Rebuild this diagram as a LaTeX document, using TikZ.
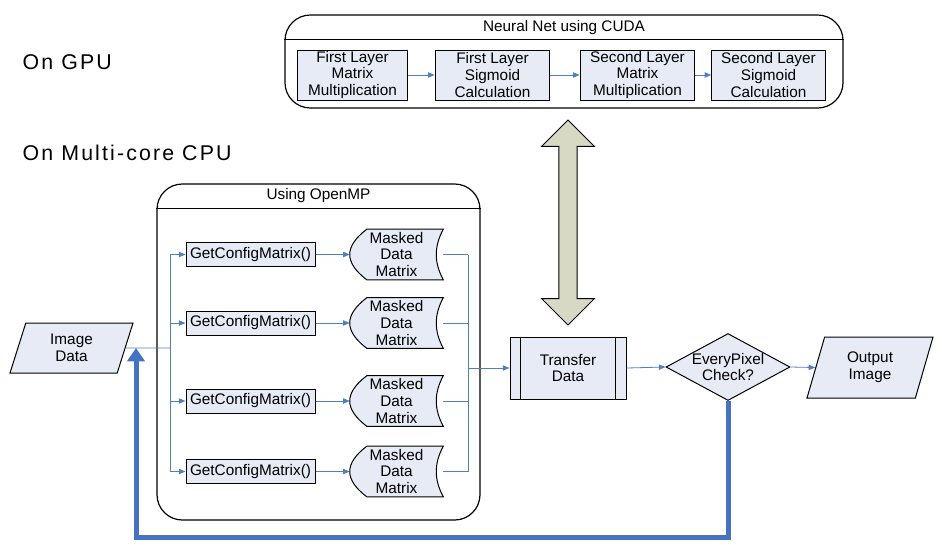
\documentclass[tikz,border=0pt]{standalone}
\usepackage{fontspec}
\setmainfont{Liberation Sans}
\newfontfamily\widefont[LetterSpace=10]{Liberation Sans}
\usetikzlibrary{arrows.meta,shapes.geometric,shapes.arrows,backgrounds}
\definecolor{boxfill}{RGB}{230,235,246}
\definecolor{linkblue}{RGB}{79,129,189}
\definecolor{backblue}{RGB}{70,114,196}
\definecolor{olivefill}{RGB}{215,217,197}
\tikzset{
  txt/.style={font=\fontsize{11.5}{12.5}\selectfont},
  stepbox/.style={txt, draw, fill=boxfill, align=center, inner sep=0pt, line width=0.75pt},
  storedbox/.style={txt, align=center, inner sep=0pt, minimum width=69.75pt, minimum height=37.5pt},
  storedline/.style={draw, fill=boxfill, line width=0.75pt},
  iobox/.style={txt, trapezium, trapezium left angle=60, trapezium right angle=120,
    trapezium stretches body, draw, fill=boxfill, align=center, inner sep=0pt, line width=0.75pt},
  decision/.style={txt, diamond, draw, fill=boxfill, align=center, inner sep=-8pt,
    minimum width=93pt, minimum height=50.25pt, line width=0.75pt},
  panel/.style={draw, line width=0.9pt, rounded corners=19pt},
  bigarrow/.style={double arrow, rotate=90, draw, fill=olivefill, line width=0.75pt,
    minimum height=153.75pt, double arrow head extend=13pt, inner sep=0pt, inner ysep=6.4pt},
  link/.style={draw=linkblue, line width=0.6pt},
  flow/.style={link, -{Triangle[length=5pt,width=4pt]}},
  back/.style={draw=backblue, line width=3.75pt, line join=miter, -{Triangle[length=10pt,width=13pt]}},
  side/.style={anchor=west, font=\widefont\fontsize{16}{19}\selectfont}
}
\begin{document}
\begin{tikzpicture}[x=0.75pt,y=-0.75pt]
  \useasboundingbox (0,0) rectangle (944,551);

  % GPU part
  \node[side] (gpulabel) at (18,62) {On GPU};
  \node[side] (cpulabel) at (18,153) {On Multi-core CPU};

  \node[panel, minimum width=418.5pt, minimum height=69.75pt] (gpu) at (564,61.5) {};
  \draw[line width=0.9pt] ([yshift=-18.75pt]gpu.north west) -- ([yshift=-18.75pt]gpu.north east);
  \node[txt] (gputitle) at (564,28) {Neural Net using CUDA};

  \node[stepbox, minimum width=83pt, minimum height=37.5pt] (l1) at (352.5,75) {First Layer\\Matrix\\Multiplication};
  \node[stepbox, minimum width=86pt, minimum height=37.5pt] (l2) at (492.5,75) {First Layer\\Sigmoid\\Calculation};
  \node[stepbox, minimum width=86pt, minimum height=37.5pt] (l3) at (637.5,75) {Second Layer\\Matrix\\Multiplication};
  \node[stepbox, minimum width=85pt, minimum height=37.5pt] (l4) at (768.5,75) {Second Layer\\Sigmoid\\Calculation};
  \draw[flow] (l1.east) -- (l2.west);
  \draw[flow] (l2.east) -- (l3.west);
  \draw[flow] (l3.east) -- (l4.west);

  \node[bigarrow] (xfer) at (568,222.5) {};

  % CPU part
  \node[panel, minimum width=242.25pt, minimum height=252pt] (omp) at (318.5,352) {};
  \draw[line width=0.9pt] ([yshift=-18.75pt]omp.north west) -- ([yshift=-18.75pt]omp.north east);
  \node[txt] (omptitle) at (318.5,196) {Using OpenMP};

  \foreach \i/\y in {1/254.5,2/323,3/401,4/471.5} {
    \node[stepbox, minimum width=96.75pt, minimum height=18pt] (g\i) at (250.5,\y) {GetConfigMatrix()};
    \node[storedbox] (m\i) at (396.5,\y) {Masked\\Data\\Matrix};
    \draw[flow] (g\i.east) -- (m\i.west);
  }

  \node[iobox, minimum width=92.25pt, minimum height=37.5pt] (idata) at (71.5,348) {Image\\Data};
  \coordinate (split) at (170,348);
  \draw[link] (idata.east) -- (split);
  \draw[link] (split |- g1.west) -- (split |- g4.west);
  \foreach \i in {1,...,4}
    \draw[flow] (split |- g\i.west) -- (g\i.west);

  \node[stepbox, minimum width=87pt, minimum height=46.5pt] (tdata) at (568,368) {Transfer\\Data};
  \draw[line width=0.75pt] ([xshift=8.25pt]tdata.north west) -- ([xshift=8.25pt]tdata.south west);
  \draw[line width=0.75pt] ([xshift=-8.25pt]tdata.north east) -- ([xshift=-8.25pt]tdata.south east);

  \coordinate (merge) at (468,368);
  \foreach \i in {1,...,4}
    \draw[link] (m\i.east) -- (merge |- m\i.east);
  \draw[link] (merge |- m1.east) -- (merge |- m4.east);
  \draw[flow] (merge) -- (tdata.west);

  \node[decision] (check) at (728,367) {EveryPixel\\Check?};
  \node[iobox, minimum width=94.5pt, minimum height=45.75pt] (oimage) at (870,367.5) {Output\\Image};
  \draw[flow] (tdata.east) -- (check.west);
  \draw[flow] (check.east) -- (oimage.west);

  % feedback loop
  \coordinate (fb) at (136,537);
  \draw[back] (check.south) |- (fb) -- (fb |- idata.east);

  \begin{scope}[on background layer]
    \fill[white] (0,0) rectangle (944,551);
    \foreach \i in {1,...,4}
      \draw[storedline] ([xshift=12.75pt]m\i.north west) -- (m\i.north east)
        .. controls ([xshift=-7pt,yshift=-13pt]m\i.north east) and ([xshift=-7pt,yshift=13pt]m\i.south east) .. (m\i.south east)
        -- ([xshift=12.75pt]m\i.south west)
        .. controls ([xshift=-4.25pt,yshift=13pt]m\i.south west) and ([xshift=-4.25pt,yshift=-13pt]m\i.north west) .. cycle;
  \end{scope}
\end{tikzpicture}
\end{document}
